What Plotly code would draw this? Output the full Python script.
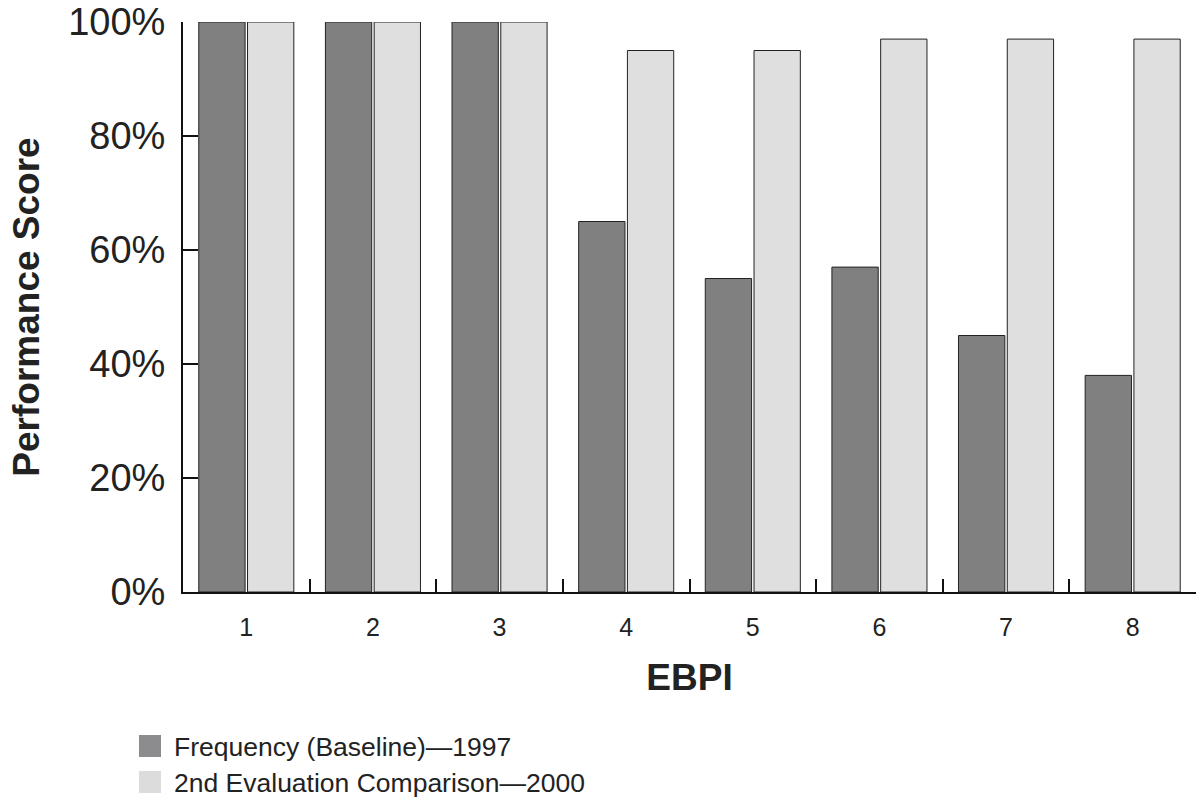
import plotly.graph_objects as go

categories = ["1", "2", "3", "4", "5", "6", "7", "8"]
baseline_1997 = [100, 100, 100, 65, 55, 57, 45, 38]
eval_2000 = [100, 100, 100, 95, 95, 97, 97, 97]
y_ticks = [0, 20, 40, 60, 80, 100]
y_tick_labels = ["0%", "20%", "40%", "60%", "80%", "100%"]
series_names = ["Frequency (Baseline)\u20141997", "2nd Evaluation Comparison\u20142000"]
series_colors = ["#808080", "#dfdfdf"]
swatch_colors = ["#8c8c8e", "#dcdcdc"]

FONT = "Liberation Sans, Arial, sans-serif"
W, H = 1196, 798
L, R, T, B = 183, 0, 22, 206
PW, PH = W - L - R, H - T - B


def px_x(px):
    return (px - L) / PW


def px_y(py):
    return (T + PH - py) / PH


fig = go.Figure()
for name, vals, col in zip(series_names, [baseline_1997, eval_2000], series_colors):
    fig.add_trace(go.Bar(
        x=categories, y=vals, name=name, showlegend=False,
        marker=dict(color=col, line=dict(color="#222222", width=1)),
    ))

# legend drawn in the bottom margin (swatch + label)
legend_rows_px = [746, 782]
shapes = []
annotations = []
for name, col, cy in zip(series_names, swatch_colors, legend_rows_px):
    shapes.append(dict(
        type="rect", xref="paper", yref="paper",
        x0=px_x(139), x1=px_x(161), y0=px_y(cy + 11), y1=px_y(cy - 11),
        fillcolor=col, line=dict(width=0),
    ))
    annotations.append(dict(
        xref="paper", yref="paper", x=px_x(172), y=px_y(cy + 1),
        xanchor="left", yanchor="middle", showarrow=False,
        text=name, font=dict(size=26.5, family=FONT, color="#222222"),
    ))

fig.update_layout(
    width=W, height=H,
    margin=dict(l=L, r=R, t=T, b=B),
    paper_bgcolor="white", plot_bgcolor="white",
    barmode="group", bargap=0.23, bargroupgap=0.05,
    font=dict(family=FONT, color="#222222"),
    showlegend=False,
    shapes=shapes, annotations=annotations,
)

fig.update_xaxes(
    type="category",
    showline=True, linecolor="#111111", linewidth=2,
    ticks="inside", tickson="boundaries", ticklen=13, tickwidth=2, tickcolor="#111111",
    tickfont=dict(size=25, family=FONT, color="#222222"),
    ticklabelstandoff=12,
    showgrid=False, zeroline=False,
    title=dict(text="<b>EBPI</b>", font=dict(size=37, family=FONT, color="#222222"), standoff=24),
)
fig.update_yaxes(
    range=[0, 100],
    tickvals=y_ticks, ticktext=y_tick_labels,
    showline=True, linecolor="#111111", linewidth=2,
    ticks="inside", ticklen=15, tickwidth=2, tickcolor="#111111",
    tickfont=dict(size=38, family=FONT, color="#222222"),
    ticklabelstandoff=8,
    showgrid=False, zeroline=False,
    title=dict(text="<b>Performance Score</b>", font=dict(size=37, family=FONT, color="#222222"), standoff=17),
)

fig.write_html("out.html")
